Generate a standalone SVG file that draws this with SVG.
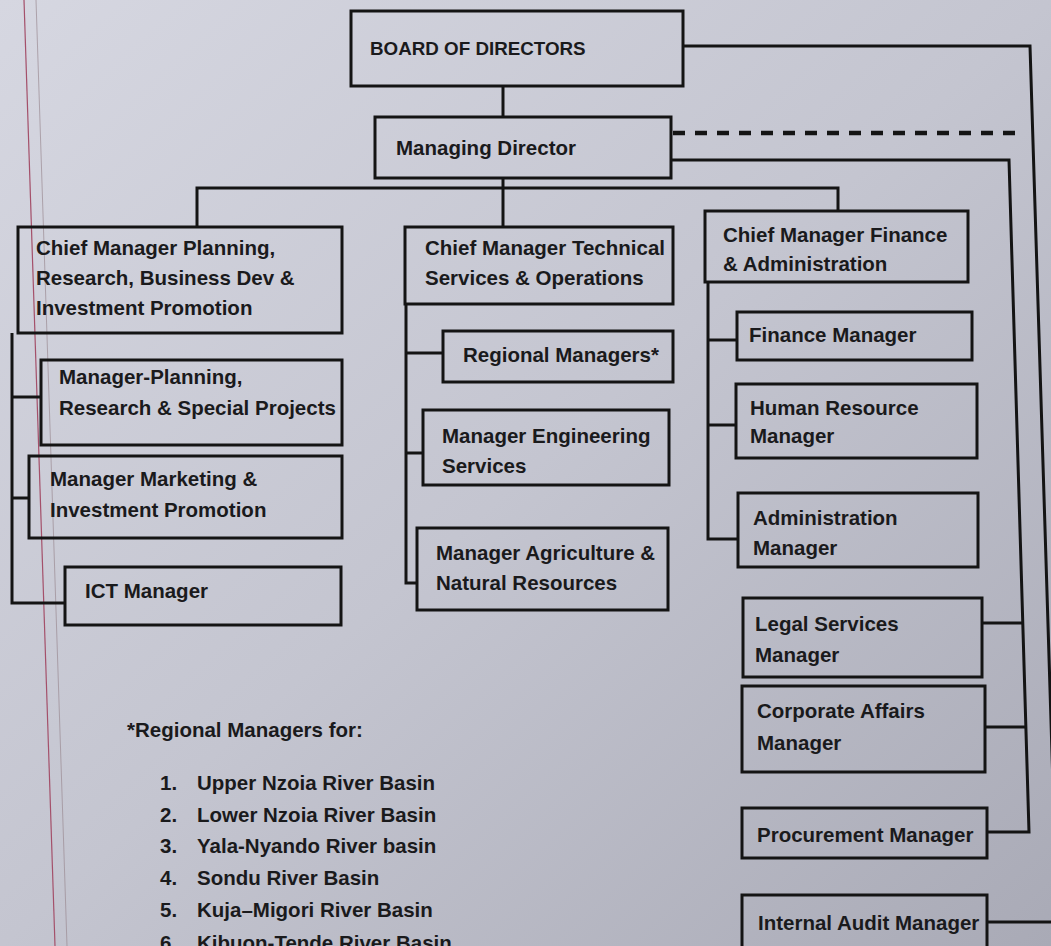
<svg xmlns="http://www.w3.org/2000/svg" width="1051" height="946" viewBox="0 0 1051 946">
  <defs>
    <linearGradient id="paper" x1="0" y1="0" x2="1" y2="1">
      <stop offset="0" stop-color="#d6d7e1"/>
      <stop offset="0.5" stop-color="#c4c5d0"/>
      <stop offset="1" stop-color="#a9aab6"/>
    </linearGradient>
    <style>
      .box { fill: none; stroke: #141414; stroke-width: 3; }
      .ln { fill: none; stroke: #141414; stroke-width: 3; }
      .dash { fill: none; stroke: #141414; stroke-width: 4.5; stroke-dasharray: 12 10; }
      text { font-family: "Liberation Sans", Arial, sans-serif; font-weight: bold; font-size: 20.5px; fill: #1a1a1c; }
      .big { font-size: 18.8px; }
    </style>
  </defs>

  <rect x="0" y="0" width="1051" height="946" fill="url(#paper)"/>
  <line x1="24" y1="0" x2="55" y2="946" stroke="#a4506a" stroke-width="1.2"/>
  <line x1="36" y1="0" x2="67" y2="946" stroke="#9c8c94" stroke-width="1" opacity="0.7"/>

  <g id="connectors">
    <path class="ln" d="M503,86 V117"/>
    <path class="ln" d="M503,178 V227"/>
    <path class="ln" d="M197,227 V188 H838 V211"/>
    <path class="ln" d="M12,333 V603 H65"/>
    <path class="ln" d="M12,397 H41"/>
    <path class="ln" d="M12,498 H29"/>
    <path class="ln" d="M406,304 V583 H417"/>
    <path class="ln" d="M406,353 H443"/>
    <path class="ln" d="M406,453 H423"/>
    <path class="ln" d="M708,282 V539 H738"/>
    <path class="ln" d="M708,340 H737"/>
    <path class="ln" d="M708,425 H736"/>
    <path class="ln" d="M671,160 H1009 L1029,832 H987"/>
    <path class="ln" d="M982,623 H1022"/>
    <path class="ln" d="M985,727 H1025"/>
    <path class="ln" d="M683,46 H1030 L1058,946"/>
    <path class="ln" d="M987,922 H1051"/>
    <path class="dash" d="M673,133 H1023"/>
  </g>

  <g id="board">
    <rect class="box" x="351" y="11" width="332" height="75"/>
    <text class="big" x="370" y="55">BOARD OF DIRECTORS</text>
  </g>
  <g id="md">
    <rect class="box" x="375" y="117" width="296" height="61"/>
    <text x="396" y="155">Managing Director</text>
  </g>

  <g id="cm-planning">
    <rect class="box" x="18" y="227" width="324" height="106"/>
    <text x="36" y="255">Chief Manager Planning,</text>
    <text x="36" y="285">Research, Business Dev &amp;</text>
    <text x="36" y="315">Investment Promotion</text>
  </g>
  <g id="m-planning">
    <rect class="box" x="41" y="360" width="301" height="85"/>
    <text x="59" y="384">Manager-Planning,</text>
    <text x="59" y="415">Research &amp; Special Projects</text>
  </g>
  <g id="m-marketing">
    <rect class="box" x="29" y="456" width="313" height="82"/>
    <text x="50" y="486">Manager Marketing &amp;</text>
    <text x="50" y="517">Investment Promotion</text>
  </g>
  <g id="ict">
    <rect class="box" x="65" y="567" width="276" height="58"/>
    <text x="85" y="598">ICT Manager</text>
  </g>

  <g id="cm-technical">
    <rect class="box" x="405" y="227" width="268" height="77"/>
    <text x="425" y="255">Chief Manager Technical</text>
    <text x="425" y="285">Services &amp; Operations</text>
  </g>
  <g id="regional">
    <rect class="box" x="443" y="331" width="230" height="51"/>
    <text x="463" y="362">Regional Managers*</text>
  </g>
  <g id="engineering">
    <rect class="box" x="423" y="410" width="246" height="75"/>
    <text x="442" y="443">Manager Engineering</text>
    <text x="442" y="473">Services</text>
  </g>
  <g id="agriculture">
    <rect class="box" x="417" y="528" width="251" height="82"/>
    <text x="436" y="560">Manager Agriculture &amp;</text>
    <text x="436" y="590">Natural Resources</text>
  </g>

  <g id="cm-finance">
    <rect class="box" x="705" y="211" width="263" height="71"/>
    <text x="723" y="242">Chief Manager Finance</text>
    <text x="723" y="271">&amp; Administration</text>
  </g>
  <g id="finance">
    <rect class="box" x="737" y="312" width="235" height="48"/>
    <text x="749" y="342">Finance Manager</text>
  </g>
  <g id="hr">
    <rect class="box" x="736" y="384" width="241" height="74"/>
    <text x="750" y="415">Human Resource</text>
    <text x="750" y="443">Manager</text>
  </g>
  <g id="admin">
    <rect class="box" x="738" y="493" width="240" height="74"/>
    <text x="753" y="525">Administration</text>
    <text x="753" y="555">Manager</text>
  </g>
  <g id="legal">
    <rect class="box" x="743" y="598" width="239" height="79"/>
    <text x="755" y="631">Legal Services</text>
    <text x="755" y="662">Manager</text>
  </g>
  <g id="corporate">
    <rect class="box" x="742" y="686" width="243" height="86"/>
    <text x="757" y="718">Corporate Affairs</text>
    <text x="757" y="750">Manager</text>
  </g>
  <g id="procurement">
    <rect class="box" x="742" y="808" width="245" height="50"/>
    <text x="757" y="842">Procurement Manager</text>
  </g>
  <g id="audit">
    <rect class="box" x="742" y="895" width="245" height="70"/>
    <text x="758" y="930">Internal Audit Manager</text>
  </g>

  <g id="footnote">
    <text x="127" y="737">*Regional Managers for:</text>
    <text x="160" y="790">1.</text><text x="197" y="790">Upper Nzoia River Basin</text>
    <text x="160" y="822">2.</text><text x="197" y="822">Lower Nzoia River Basin</text>
    <text x="160" y="853">3.</text><text x="197" y="853">Yala-Nyando River basin</text>
    <text x="160" y="885">4.</text><text x="197" y="885">Sondu River Basin</text>
    <text x="160" y="917">5.</text><text x="197" y="917">Kuja–Migori River Basin</text>
    <text x="160" y="950">6.</text><text x="197" y="950">Kibuon-Tende River Basin</text>
  </g>
</svg>
